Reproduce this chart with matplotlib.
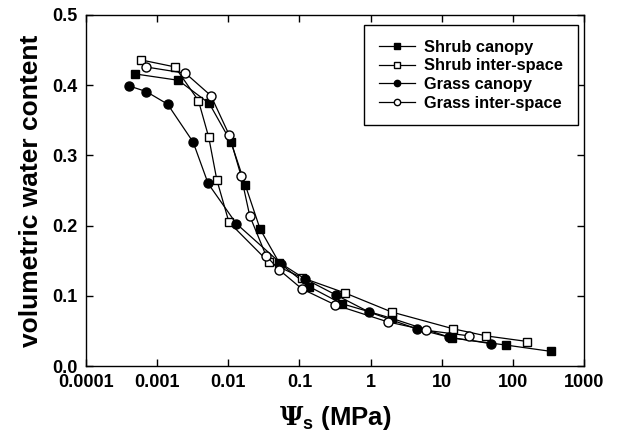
import matplotlib
matplotlib.use('Agg')
import matplotlib.pyplot as plt
from matplotlib.ticker import FixedLocator, FixedFormatter, NullLocator

plt.rcParams['font.family'] = ['Liberation Sans', 'DejaVu Sans']
plt.rcParams['font.weight'] = 'bold'
plt.rcParams['mathtext.fontset'] = 'custom'
plt.rcParams['mathtext.rm'] = 'DejaVu Serif'
plt.rcParams['mathtext.bf'] = 'Liberation Sans:bold'

# water retention data (psi in MPa, theta)
shrub_canopy_x = [0.00049, 0.00198, 0.0054, 0.0109, 0.0173, 0.028, 0.052, 0.138, 0.39, 1.98, 13.8, 79, 340]
shrub_canopy_y = [0.416, 0.407, 0.374, 0.319, 0.258, 0.195, 0.147, 0.113, 0.089, 0.068, 0.040, 0.030, 0.021]

shrub_inter_x = [0.00059, 0.00178, 0.0038, 0.0053, 0.0069, 0.0102, 0.037, 0.108, 0.44, 1.98, 14.6, 42, 160]
shrub_inter_y = [0.436, 0.426, 0.378, 0.326, 0.265, 0.205, 0.148, 0.126, 0.104, 0.077, 0.053, 0.043, 0.035]

grass_canopy_x = [0.0004, 0.0007, 0.0014, 0.0032, 0.0052, 0.0129, 0.055, 0.12, 0.33, 0.95, 4.45, 12.8, 49]
grass_canopy_y = [0.399, 0.391, 0.373, 0.319, 0.260, 0.203, 0.146, 0.124, 0.101, 0.077, 0.053, 0.041, 0.032]

grass_inter_x = [0.00069, 0.0025, 0.0057, 0.0103, 0.0151, 0.020, 0.034, 0.052, 0.108, 0.32, 1.74, 6.0, 24.4]
grass_inter_y = [0.426, 0.417, 0.385, 0.329, 0.271, 0.214, 0.157, 0.137, 0.110, 0.087, 0.063, 0.051, 0.043]

xticks = [0.0001, 0.001, 0.01, 0.1, 1, 10, 100, 1000]
xticklabels = ['0.0001', '0.001', '0.01', '0.1', '1', '10', '100', '1000']
yticks = [0.0, 0.1, 0.2, 0.3, 0.4, 0.5]

fig = plt.figure(figsize=(6.19, 4.40), dpi=100)
ax = fig.add_axes([0.139, 0.168, 0.8045, 0.798])

ms = 6
ax.plot(shrub_canopy_x, shrub_canopy_y, '-s', color='black', mfc='black', mec='black',
        ms=ms, lw=0.9, label='Shrub canopy')
ax.plot(shrub_inter_x, shrub_inter_y, '-s', color='black', mfc='white', mec='black',
        ms=ms, lw=0.9, label='Shrub inter-space')
ax.plot(grass_canopy_x, grass_canopy_y, '-o', color='black', mfc='black', mec='black',
        ms=ms + 0.5, lw=0.9, label='Grass canopy')
ax.plot(grass_inter_x, grass_inter_y, '-o', color='black', mfc='white', mec='black',
        ms=ms + 0.5, lw=0.9, label='Grass inter-space')

ax.set_xscale('log')
ax.set_xlim(0.0001, 1000)
ax.set_ylim(0, 0.5)
ax.xaxis.set_major_locator(FixedLocator(xticks))
ax.xaxis.set_major_formatter(FixedFormatter(xticklabels))
ax.xaxis.set_minor_locator(NullLocator())
ax.set_yticks(yticks)
ax.set_yticklabels(['%.1f' % v for v in yticks])

ax.tick_params(direction='in', length=5, width=1, top=True, right=True,
               labelsize=13, pad=6)
for s in ax.spines.values():
    s.set_linewidth(1)

ax.set_ylabel('volumetric water content', fontsize=19, fontweight='bold', labelpad=7)
ax.set_xlabel(r'$\Psi_{\mathbf{s}}$ (MPa)', fontsize=18.5, fontweight='bold', labelpad=9)

leg = ax.legend(loc='upper right', bbox_to_anchor=(0.988, 0.9715), borderaxespad=0,
                fancybox=False, edgecolor='black', framealpha=1, fontsize=11.8,
                markerscale=0.7, labelspacing=0.22, handlelength=2.2,
                borderpad=0.9, handletextpad=0.6)
leg.get_frame().set_linewidth(1)

plt.savefig('out.png', dpi=100)
